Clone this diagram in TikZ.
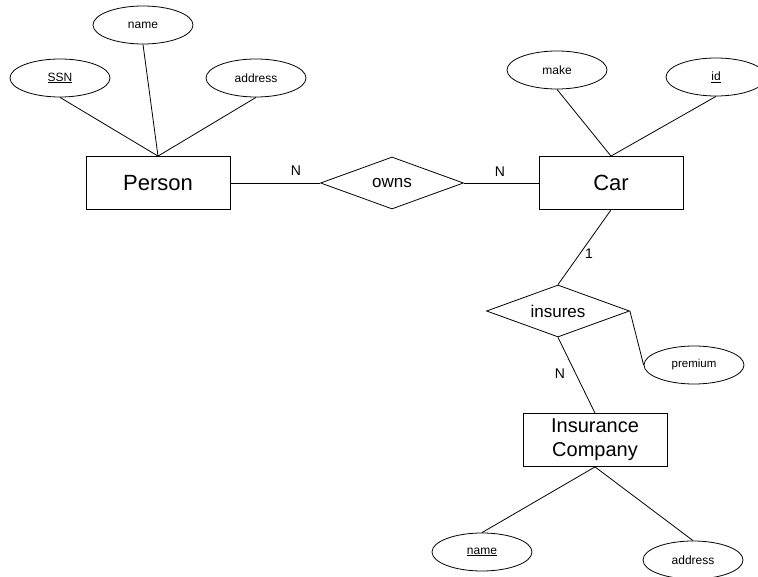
\documentclass[tikz,border=0pt]{standalone}
\usepackage{fontspec}
\setmainfont{Liberation Sans}
\usetikzlibrary{shapes.geometric}
\begin{document}
\begin{tikzpicture}[x=1pt,y=-1pt,
  every node/.style={inner sep=0pt},
  link/.style={draw=black,line width=0.8pt},
  attr/.style={draw=black,line width=0.8pt,ellipse,minimum width=100pt,minimum height=38pt,font=\fontsize{12}{14}\selectfont},
  entity/.style={draw=black,line width=0.8pt,rectangle,minimum height=53pt,minimum width=144pt},
  rel/.style={draw=black,line width=0.8pt,diamond,aspect=2.75,minimum width=143pt,minimum height=52pt,font=\fontsize{17}{20}\selectfont},
  card/.style={font=\fontsize{14}{16}\selectfont}]
\useasboundingbox (0,0) rectangle (758,577);

% Person entity and its attributes
\node[entity,font=\fontsize{22}{26}\selectfont] (person) at (158,183) {Person};
\node[attr] (pname) at (143,25) {name};
\node[attr] (ssn) at (60,78) {\underline{SSN}};
\node[attr] (paddr) at (256,78) {address};

% owns relationship
\node[rel] (owns) at (392,183) {owns};

% Car entity and its attributes
\node[entity,font=\fontsize{22}{26}\selectfont] (car) at (611,183) {Car};
\node[attr] (make) at (557,70) {make};
\node[attr] (id) at (716,77) {\underline{id}};

% insures relationship
\node[rel] (insures) at (558,311) {insures};
\node[attr,font=\fontsize{11.5}{14}\selectfont] (premium) at (694,365) {premium};

% Insurance Company entity and its attributes
\node[entity,align=center,font=\fontsize{20}{24}\selectfont] (company) at (595,440) {Insurance\\Company};
\node[attr] (cname) at (482,552) {\underline{name}};
\node[attr] (caddr) at (693,560) {address};

% connectors
\draw[link] (pname.south) -- (person.north);
\draw[link] (ssn.south) -- (person.north);
\draw[link] (paddr.south) -- (person.north);
\draw[link] (person.east) -- (owns.west);
\draw[link] (owns.east) -- (car.west);
\draw[link] (make.south) -- (car.north);
\draw[link] (id.south) -- (car.north);
\draw[link] (car.south) -- (insures.north);
\draw[link] (insures.east) -- (premium.west);
\draw[link] (insures.south) -- (company.north);
\draw[link] (company.south) -- (cname.north);
\draw[link] (company.south) -- (caddr.north);

% cardinalities
\node[card] (c1) at (296,171) {N};
\node[card] (c2) at (500,172) {N};
\node[card] (c3) at (589,254) {1};
\node[card] (c4) at (560,374) {N};
\end{tikzpicture}
\end{document}
